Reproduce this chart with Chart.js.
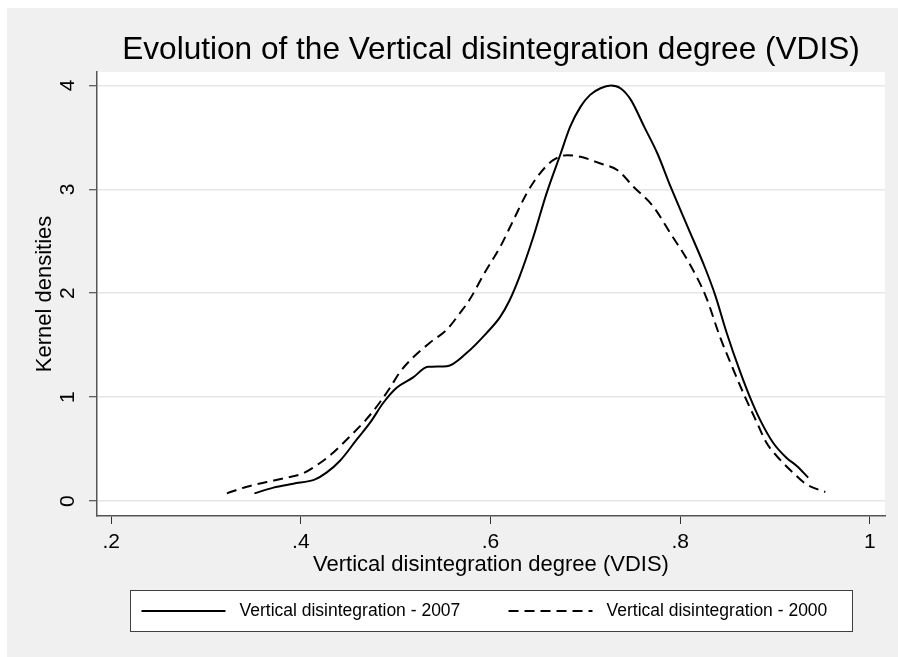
<!DOCTYPE html>
<html><head><meta charset="utf-8">
<script src="https://cdn.jsdelivr.net/npm/chart.js@4.4.1/dist/chart.umd.min.js"></script>
<style>html,body{margin:0;padding:0;background:#fff;} canvas{display:block;}</style>
</head><body>
<canvas id="c" width="898" height="657"></canvas>
<script>
const titleText = "Evolution of the Vertical disintegration degree (VDIS)";
const xAxisTitle = "Vertical disintegration degree (VDIS)";
const yAxisTitle = "Kernel densities";
const xTickValues = [0.2, 0.4, 0.6, 0.8, 1.0];
const xTickLabels = [".2", ".4", ".6", ".8", "1"];
const yTickValues = [0, 1, 2, 3, 4];
const yTickLabels = ["0", "1", "2", "3", "4"];
const series2007Label = "Vertical disintegration - 2007";
const series2000Label = "Vertical disintegration - 2000";

const vdis2007X = [0.351,0.371,0.392,0.415,0.427,0.441,0.459,0.473,0.487,0.501,0.518,0.534,0.554,0.575,0.596,0.610,0.620,0.631,0.645,0.659,0.674,0.684,0.695,0.705,0.716,0.727,0.737,0.748,0.762,0.776,0.790,0.808,0.826,0.837,0.849,0.863,0.874,0.884,0.898,0.912,0.923,0.935];
const vdis2007Y = [0.074,0.129,0.167,0.209,0.273,0.385,0.593,0.754,0.946,1.090,1.187,1.292,1.298,1.427,1.619,1.770,1.930,2.170,2.539,2.959,3.345,3.603,3.796,3.909,3.973,3.999,3.973,3.861,3.603,3.345,3.023,2.637,2.250,1.980,1.620,1.250,0.990,0.786,0.561,0.417,0.337,0.225];

const vdis2000X = [0.322,0.343,0.364,0.385,0.402,0.417,0.434,0.452,0.469,0.483,0.494,0.504,0.518,0.536,0.554,0.568,0.578,0.594,0.610,0.624,0.638,0.652,0.666,0.681,0.695,0.716,0.734,0.751,0.772,0.790,0.808,0.827,0.842,0.856,0.868,0.881,0.891,0.905,0.919,0.933,0.953];
const vdis2000Y = [0.074,0.138,0.183,0.225,0.266,0.346,0.465,0.625,0.786,0.946,1.090,1.235,1.379,1.523,1.651,1.812,1.939,2.200,2.443,2.701,2.959,3.152,3.281,3.329,3.313,3.248,3.184,3.023,2.830,2.572,2.314,1.970,1.580,1.266,1.010,0.754,0.561,0.401,0.273,0.161,0.087];

const FONT = "'Liberation Sans', Arial, Helvetica, sans-serif";
const toPts = (xs, ys) => xs.map((x, i) => ({ x: x, y: ys[i] }));

const backgroundPlugin = {
  id: 'bg',
  beforeDraw(chart) {
    const ctx = chart.ctx;
    ctx.save();
    ctx.fillStyle = '#ffffff';
    ctx.fillRect(0, 0, chart.width, chart.height);
    ctx.fillStyle = '#f0f0f0';
    ctx.fillRect(7, 8, chart.width - 7, chart.height - 8);
    const a = chart.chartArea;
    ctx.fillStyle = '#ffffff';
    ctx.fillRect(a.left, a.top, a.right - a.left, a.bottom - a.top);
    ctx.restore();
  }
};

const centerTitlePlugin = {
  id: 'centerTitle',
  afterLayout(chart) {
    const t = chart.titleBlock;
    if (t) {
      t.left = chart.chartArea.left;
      t.right = chart.chartArea.right;
      t.width = t.right - t.left;
    }
  }
};

const boxLegendPlugin = {
  id: 'boxLegend',
  afterDraw(chart) {
    const ctx = chart.ctx;
    const a = chart.chartArea;
    const cx = (a.left + a.right) / 2;
    const boxW = 722, boxH = 41;
    const bx = Math.round(cx - boxW / 2) + 0.5, by = 590.5;
    ctx.save();
    ctx.fillStyle = '#ffffff';
    ctx.fillRect(bx, by, boxW, boxH);
    ctx.strokeStyle = '#404040';
    ctx.lineWidth = 1;
    ctx.strokeRect(bx, by, boxW, boxH);
    const itemStarts = [bx + 11, bx + 378];
    const lineLen = 84;
    const yMid = by + boxH / 2;
    ctx.font = "17.5px " + FONT;
    ctx.textBaseline = 'middle';
    ctx.textAlign = 'left';
    chart.data.datasets.forEach((ds, i) => {
      const x0 = itemStarts[i];
      ctx.beginPath();
      ctx.setLineDash(ds.borderDash || []);
      ctx.strokeStyle = ds.borderColor;
      ctx.lineWidth = ds.borderWidth;
      ctx.moveTo(x0, yMid);
      ctx.lineTo(x0 + lineLen, yMid);
      ctx.stroke();
      ctx.setLineDash([]);
      ctx.fillStyle = '#000';
      ctx.fillText(ds.label, x0 + lineLen + 14, yMid);
    });
    ctx.restore();
  }
};

new Chart(document.getElementById('c'), {
  type: 'line',
  data: {
    datasets: [
      { label: series2007Label, data: toPts(vdis2007X, vdis2007Y), borderColor: '#000', borderWidth: 2, pointRadius: 0, fill: false, cubicInterpolationMode: 'monotone' },
      { label: series2000Label, data: toPts(vdis2000X, vdis2000Y), borderColor: '#000', borderWidth: 2, borderDash: [10, 6], pointRadius: 0, fill: false, cubicInterpolationMode: 'monotone' }
    ]
  },
  options: {
    responsive: false,
    animation: false,
    devicePixelRatio: 1,
    layout: { padding: { left: 7, top: 8, right: 13, bottom: 71 } },
    plugins: {
      legend: { display: false },
      tooltip: { enabled: false },
      title: {
        display: true, text: titleText, color: '#000',
        font: { family: FONT, size: 31.6, weight: 'normal' },
        padding: { top: 23.8, bottom: 2.3 }
      }
    },
    scales: {
      x: {
        type: 'linear', min: 0.185, max: 1.016,
        afterBuildTicks: (s) => { s.ticks = xTickValues.map(v => ({ value: v })); },
        afterFit: (s) => { s.height = 70; },
        grid: { drawOnChartArea: false, drawTicks: true, tickLength: 8, tickColor: '#333', tickWidth: 1 },
        border: { color: '#555', width: 1.5 },
        ticks: {
          color: '#000', font: { family: FONT, size: 21 }, padding: 6,
          maxRotation: 0, minRotation: 0, autoSkip: false,
          callback: (v, i) => xTickLabels[i]
        },
        title: { display: true, text: xAxisTitle, color: '#000', font: { family: FONT, size: 22 }, padding: { top: 0, bottom: 8 } }
      },
      y: {
        type: 'linear', min: -0.144, max: 4.129,
        afterBuildTicks: (s) => { s.ticks = yTickValues.map(v => ({ value: v })); },
        afterFit: (s) => { s.width = 90; },
        grid: { color: '#e6e6e6', lineWidth: 1.5, drawTicks: true, tickLength: 8, tickColor: '#333', tickWidth: 1 },
        border: { color: '#555', width: 1.5 },
        ticks: {
          color: '#000', font: { family: FONT, size: 21 }, padding: 15,
          minRotation: 90, maxRotation: 90, crossAlign: 'center', autoSkip: false,
          callback: (v, i) => yTickLabels[i]
        },
        title: { display: true, text: yAxisTitle, color: '#000', font: { family: FONT, size: 22 }, padding: { top: 25, bottom: 0 } }
      }
    }
  },
  plugins: [backgroundPlugin, centerTitlePlugin, boxLegendPlugin]
});
</script>
</body></html>
